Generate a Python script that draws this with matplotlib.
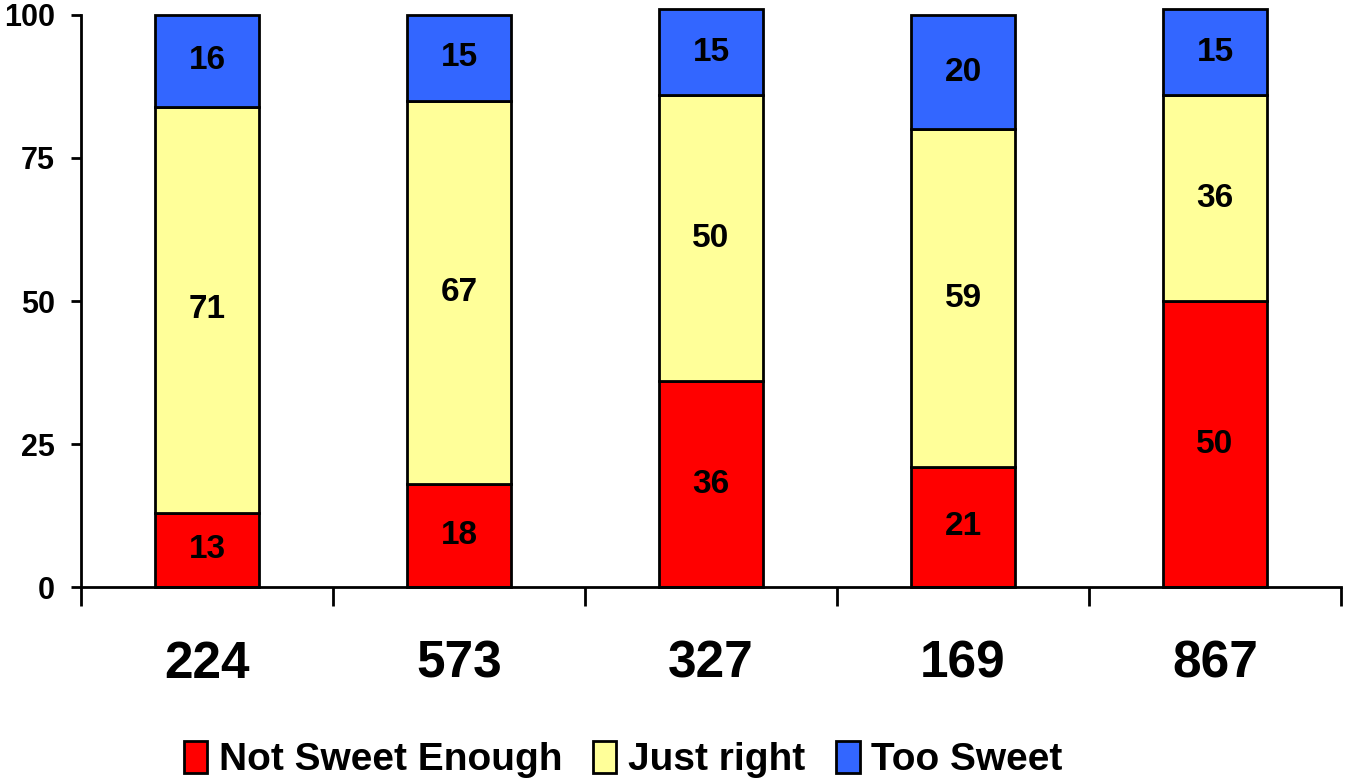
import numpy as np
import matplotlib
matplotlib.use("Agg")
from matplotlib import pyplot as plt
from matplotlib.patches import Patch

samples = ["224", "573", "327", "169", "867"]
not_sweet = [13, 18, 36, 21, 50]
just_right = [71, 67, 50, 59, 36]
too_sweet = [16, 15, 15, 20, 15]
series_names = ["Not Sweet Enough", "Just right", "Too Sweet"]
colors = ["#FF0000", "#FFFF99", "#3366FF"]

fonts = ["Liberation Sans", "DejaVu Sans"]

fig = plt.figure(figsize=(13.46, 7.8), dpi=100)
ax = fig.add_axes([0.0602, 0.2474, 0.9361, 0.7334])

x = np.arange(len(samples))
bottom = np.zeros(len(samples))
for vals, col in zip([not_sweet, just_right, too_sweet], colors):
    bars = ax.bar(x, vals, width=0.41, bottom=bottom, color=col,
                  edgecolor="black", linewidth=2, clip_on=False)
    for b, v in zip(bars, vals):
        ax.text(b.get_x() + b.get_width() / 2, b.get_y() + v / 2, str(v),
                ha="center", va="center", fontsize=24, fontweight="bold",
                family=fonts)
    bottom += np.array(vals)

ax.set_xlim(-0.5, len(samples) - 0.5)
ax.set_ylim(0, 100)
ax.set_yticks([0, 25, 50, 75, 100])
ax.tick_params(axis="y", direction="out", length=7, width=2, pad=12)
for lab in ax.get_yticklabels():
    lab.set_fontsize(22)
    lab.set_fontweight("bold")
    lab.set_family(fonts)

# tick marks at category boundaries, labels at centres
ax.set_xticks(np.arange(-0.5, len(samples), 1.0))
ax.set_xticklabels([])
ax.tick_params(axis="x", which="major", direction="out", length=14, width=2)
ax.set_xticks(x, minor=True)
ax.set_xticklabels(samples, minor=True)
ax.tick_params(axis="x", which="minor", length=0, pad=38)
for lab in ax.get_xticklabels(minor=True):
    lab.set_fontsize(37)
    lab.set_fontweight("bold")
    lab.set_family(fonts)

for s in ["top", "right"]:
    ax.spines[s].set_visible(False)
for s in ["left", "bottom"]:
    ax.spines[s].set_linewidth(2)

handles = [Patch(facecolor=c, edgecolor="black", linewidth=2) for c in colors]
fig.legend(handles, series_names, loc="center", bbox_to_anchor=(0.463, 0.026),
           ncol=3, frameon=False, handlelength=0.6, handleheight=0.9,
           handletextpad=0.3, columnspacing=0.8,
           prop={"family": fonts, "weight": "bold", "size": 28})

fig.savefig("out.png", dpi=100)
